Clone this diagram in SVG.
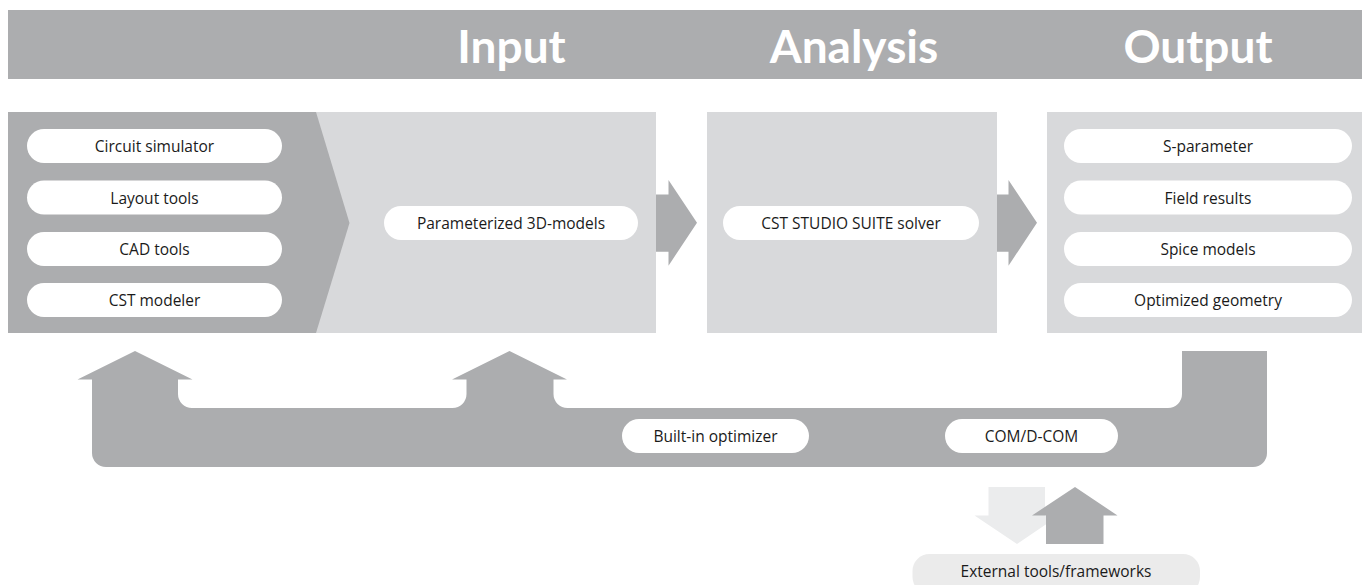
<svg xmlns="http://www.w3.org/2000/svg" width="1362" height="585" viewBox="0 0 1362 585">
<defs>
<style>
.dark{fill:#acadaf}
.light{fill:#d8d9db}
.pill{fill:#ffffff}
.pt{font-family:"Open Sans",Lato,sans-serif;font-size:15.5px;fill:#1a1a1a;text-anchor:middle}
.hd{font-family:Lato,"Open Sans",sans-serif;font-size:46px;font-weight:bold;fill:#ffffff;text-anchor:middle}
</style>
</defs>
<rect width="1362" height="585" fill="#ffffff"/>
<g id="header">
<rect class="dark" x="8" y="10" width="1354" height="69"/>
<text class="hd" x="511.5" y="63">Input</text>
<text class="hd" x="854" y="63">Analysis</text>
<text class="hd" x="1198" y="63">Output</text>
</g>
<g id="input">
<rect class="light" x="8" y="112" width="648" height="221"/>
<path class="dark" d="M8,112 L316,112 L349.5,223 L316,333 L8,333 Z"/>
</g>
<g id="circuit-simulator"><rect class="pill" x="27" y="129" width="255" height="34" rx="17"/><text class="pt" x="154.5" y="152">Circuit simulator</text></g>
<g id="layout-tools"><rect class="pill" x="27" y="180.5" width="255" height="34" rx="17"/><text class="pt" x="154.5" y="203.5">Layout tools</text></g>
<g id="cad-tools"><rect class="pill" x="27" y="232" width="255" height="34" rx="17"/><text class="pt" x="154.5" y="255">CAD tools</text></g>
<g id="cst-modeler"><rect class="pill" x="27" y="283" width="255" height="34" rx="17"/><text class="pt" x="154.5" y="306">CST modeler</text></g>
<g id="param-models"><rect class="pill" x="384" y="206" width="254" height="34" rx="17"/><text class="pt" x="511" y="229">Parameterized 3D-models</text></g>
<g id="analysis">
<rect class="light" x="707" y="112" width="290" height="221"/>
</g>
<g id="solver"><rect class="pill" x="723" y="206" width="256" height="34" rx="17"/><text class="pt" x="851" y="229">CST STUDIO SUITE solver</text></g>
<g id="output">
<rect class="light" x="1047" y="112" width="315" height="221"/>
</g>
<g id="s-parameter"><rect class="pill" x="1064" y="129" width="288" height="34" rx="17"/><text class="pt" x="1208" y="152">S-parameter</text></g>
<g id="field-results"><rect class="pill" x="1064" y="180.5" width="288" height="34" rx="17"/><text class="pt" x="1208" y="203.5">Field results</text></g>
<g id="spice-models"><rect class="pill" x="1064" y="232" width="288" height="34" rx="17"/><text class="pt" x="1208" y="255">Spice models</text></g>
<g id="optimized-geometry"><rect class="pill" x="1064" y="283" width="288" height="34" rx="17"/><text class="pt" x="1208" y="306">Optimized geometry</text></g>
<g id="connectors">
<path class="dark" d="M656,194.5 L668.5,194.5 L668.5,180 L697,222.7 L668.5,265.7 L668.5,251.7 L656,251.7 Z"/>
<path class="dark" d="M997,194.5 L1008.5,194.5 L1008.5,180 L1037,222.7 L1008.5,265.7 L1008.5,251.7 L997,251.7 Z"/>
<path class="dark" d="M135,351 L192.5,379.5 L178,379.5 L178,394 A14,14 0 0 0 192,408 L452.5,408 A14,14 0 0 0 466.5,394 L466.5,379.5 L452,379.5 L509.5,351 L567,379.5 L553.5,379.5 L553.5,394 A14,14 0 0 0 567.5,408 L1168,408 A14,14 0 0 0 1182,394 L1182,351 L1267,351 L1267,453 A14,14 0 0 1 1253,467 L106,467 A14,14 0 0 1 92,453 L92,379.5 L77.5,379.5 Z"/>
<path fill="#ebeced" d="M988.5,487 L1045,487 L1045,515.5 L1059,515.5 L1017,544 L974.5,515.5 L988.5,515.5 Z"/>
<path class="dark" d="M1075,487 L1117.5,515.5 L1103.5,515.5 L1103.5,544 L1046,544 L1046,515.5 L1032,515.5 Z"/>
</g>
<g id="built-in-optimizer"><rect class="pill" x="622" y="419" width="187" height="34" rx="17"/><text class="pt" x="715.5" y="442">Built-in optimizer</text></g>
<g id="com-dcom"><rect class="pill" x="945" y="419" width="173" height="34" rx="17"/><text class="pt" x="1031.5" y="442">COM/D-COM</text></g>
<g id="external"><rect fill="#ebebeb" x="912.5" y="554" width="287.5" height="40" rx="17"/><text class="pt" x="1056" y="577">External tools/frameworks</text></g>
</svg>
